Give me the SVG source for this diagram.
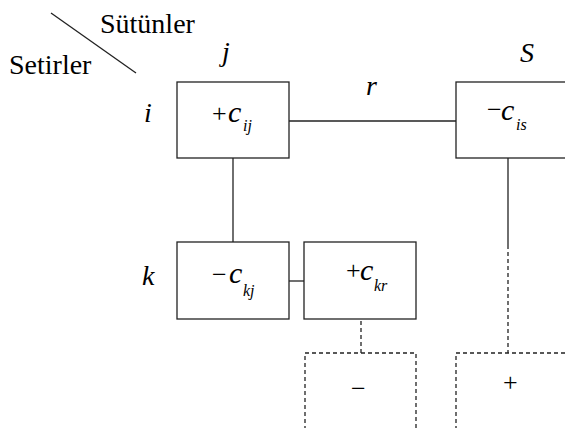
<svg xmlns="http://www.w3.org/2000/svg" width="565" height="428" viewBox="0 0 565 428">
<rect width="565" height="428" fill="#fff"/>
<g id="header">
<line x1="51" y1="13" x2="136" y2="73" stroke="#222" stroke-width="1.3"/>
<text font-family="Liberation Serif" font-size="28" x="100" y="33">Sütünler</text>
<text font-family="Liberation Serif" font-size="28" x="9" y="74">Setirler</text>
<text font-family="Liberation Serif" font-size="28" font-style="italic" x="222" y="61">j</text>
<text font-family="Liberation Serif" font-size="28" font-style="italic" x="520" y="62">S</text>
<text font-family="Liberation Serif" font-size="28" font-style="italic" x="366" y="95">r</text>
<text font-family="Liberation Serif" font-size="28" font-style="italic" x="144" y="122">i</text>
<text font-family="Liberation Serif" font-size="28" font-style="italic" x="142" y="285">k</text>
</g>
<g id="connectors" stroke="#222" stroke-width="1.3" fill="none">
<line x1="289" y1="121" x2="456" y2="121"/>
<line x1="233" y1="158" x2="233" y2="242"/>
<line x1="289" y1="281" x2="304" y2="281"/>
<line x1="508" y1="158" x2="508" y2="249"/>
<line x1="508" y1="252" x2="508" y2="353" stroke-dasharray="4 3"/>
<line x1="361" y1="321" x2="361" y2="353" stroke-dasharray="4 3"/>
</g>
<g id="node-ij">
<rect x="177" y="82" width="112" height="76" fill="#fff" stroke="#222" stroke-width="1.3"/>
<text font-family="Liberation Serif" font-size="26" x="212" y="122">+</text>
<text font-family="Liberation Serif" font-size="30" font-style="italic" x="228" y="122">c</text>
<text font-family="Liberation Serif" font-size="16" font-style="italic" x="243" y="131">ij</text>
</g>
<g id="node-is">
<rect x="456" y="82" width="150" height="76" fill="#fff" stroke="#222" stroke-width="1.3"/>
<text font-family="Liberation Serif" font-size="26" x="487" y="118">−</text>
<text font-family="Liberation Serif" font-size="30" font-style="italic" x="501" y="120">c</text>
<text font-family="Liberation Serif" font-size="16" font-style="italic" x="516" y="130">is</text>
</g>
<g id="node-kj">
<rect x="177" y="242" width="112" height="77" fill="#fff" stroke="#222" stroke-width="1.3"/>
<text font-family="Liberation Serif" font-size="26" x="212" y="283">−</text>
<text font-family="Liberation Serif" font-size="30" font-style="italic" x="229" y="283">c</text>
<text font-family="Liberation Serif" font-size="16" font-style="italic" x="243" y="296">kj</text>
</g>
<g id="node-kr">
<rect x="304" y="242" width="112" height="77" fill="#fff" stroke="#222" stroke-width="1.3"/>
<text font-family="Liberation Serif" font-size="26" x="346" y="279">+</text>
<text font-family="Liberation Serif" font-size="30" font-style="italic" x="360" y="280">c</text>
<text font-family="Liberation Serif" font-size="16" font-style="italic" x="374" y="291">kr</text>
</g>
<g id="node-minus">
<path d="M305,430 V353 H416 V430" fill="none" stroke="#222" stroke-width="1.3" stroke-dasharray="4 3"/>
<text font-family="Liberation Serif" font-size="26" x="351" y="397">−</text>
</g>
<g id="node-plus">
<path d="M456,430 V353 H570" fill="none" stroke="#222" stroke-width="1.3" stroke-dasharray="4 3"/>
<text font-family="Liberation Serif" font-size="26" x="503" y="391">+</text>
</g>
</svg>
